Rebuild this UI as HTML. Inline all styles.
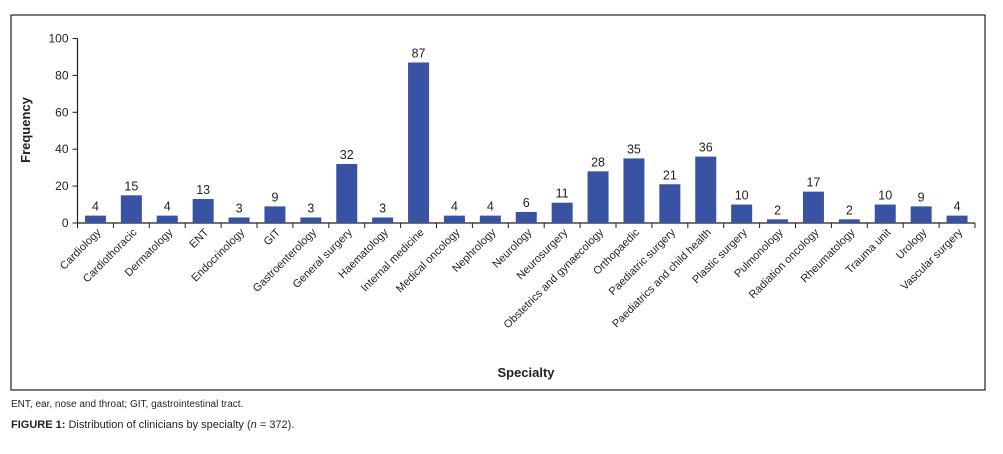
<!DOCTYPE html>
<html><head><meta charset="utf-8"><style>
body{margin:0;background:#fff;font-family:"Liberation Sans",sans-serif;}
svg text{font-family:"Liberation Sans",sans-serif;fill:#231f20;}
</style></head><body>
<svg id="c" width="1003" height="449">
<rect x="11" y="15" width="974" height="375" fill="none" stroke="#231f20" stroke-width="1.2"/>
<g id="plot"></g>
<text x="30" y="130" font-size="13" font-weight="bold" transform="rotate(-90 30 130)" text-anchor="middle">Frequency</text>
<text x="526" y="377" font-size="13" font-weight="bold" text-anchor="middle">Specialty</text>
<text x="11" y="407" font-size="10">ENT, ear, nose and throat; GIT, gastrointestinal tract.</text>
<text x="11" y="428" font-size="11"><tspan font-weight="bold">FIGURE 1:</tspan> Distribution of clinicians by specialty (<tspan font-style="italic">n</tspan> = 372).</text>
</svg>
<script>
const categories=["Cardiology","Cardiothoracic","Dermatology","ENT","Endocrinology","GIT","Gastroenterology","General surgery","Haematology","Internal medicine","Medical oncology","Nephrology","Neurology","Neurosurgery","Obstetrics and gynaecology","Orthopaedic","Paediatric surgery","Paediatrics and child health","Plastic surgery","Pulmonology","Radiation oncology","Rheumatology","Trauma unit","Urology","Vascular surgery"];
const values=[4,15,4,13,3,9,3,32,3,87,4,4,6,11,28,35,21,36,10,2,17,2,10,9,4];
const yTicks=[0,20,40,60,80,100];
const NS="http://www.w3.org/2000/svg";
const g=document.getElementById('plot');
const X0=77.5,X1=975,Y0=223,Y1=38.5;
const step=(X1-X0)/categories.length;
const y=v=>Y0-(v/100)*(Y0-Y1);
const xc=i=>X0+step*(i+0.5);
function mk(t,a){const e=document.createElementNS(NS,t);for(const k in a)e.setAttribute(k,a[k]);g.appendChild(e);return e;}
let ax=mk('line',{x1:X0,y1:Y1,x2:X0,y2:Y0,stroke:'#231f20','stroke-width':1.2});


let bx=mk('line',{x1:X0,y1:Y0,x2:X1,y2:Y0,stroke:'#231f20','stroke-width':1.2});


yTicks.forEach(t=>{
 let l=mk('line',{x1:X0-5,x2:X0,y1:y(t),y2:y(t),stroke:'#231f20'});
 
 
 let tx=mk('text',{x:X0-9,y:y(t)+4,'font-size':12,'text-anchor':'end'});tx.textContent=t;
 
 
});
for(let i=0;i<=categories.length;i++){
 let l=mk('line',{x1:X0+step*i,x2:X0+step*i,y1:Y0,y2:Y0+5,stroke:'#231f20'});
 
 
}
categories.forEach((c,i)=>{
 const v=values[i],cx=xc(i),bw=21;
 let r=mk('rect',{x:cx-bw/2,y:y(v),width:bw,height:Y0-y(v),fill:'#3953a4'});
 
 
 let vl=mk('text',{x:cx,y:y(v)-5,'font-size':12.5,'text-anchor':'middle'});vl.textContent=v;
 
 
 let cl=mk('text',{x:cx+6,y:Y0+10,'font-size':11,'text-anchor':'end',transform:`rotate(-45 ${cx+6} ${Y0+10})`});cl.textContent=c;
 
 
});
</script>
</body></html>
